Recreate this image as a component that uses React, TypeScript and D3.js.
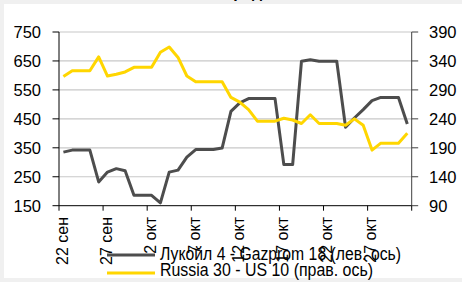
import * as d3 from "d3";

/** daily categories, 22 Sep .. 31 Oct */
const days = d3.timeDay.range(new Date(2008, 8, 22), new Date(2008, 10, 1));

/** Лукойл 4 - Gazprom 18, left axis */
const lukoilGazprom = [
  335, 342, 342, 342, 232, 266, 278, 271, 186, 186, 186, 160, 266, 273, 318,
  344, 344, 344, 349, 476, 505, 520, 520, 520, 520, 292, 292, 649, 654, 649,
  649, 649, 421, 453, 482, 513, 524, 524, 524, 432,
];

/** Russia 30 - US 10, right axis */
const russiaUs = [
  313, 323, 323, 323, 347, 314, 317, 321, 329, 329, 329, 355, 364, 346, 314,
  304, 304, 304, 304, 277, 269, 256, 236, 236, 236, 241, 238, 232, 247, 232,
  232, 232, 229, 240, 229, 186, 198, 198, 198, 215,
];

const leftTicks = [150, 250, 350, 450, 550, 650, 750];
const rightTicks = [90, 140, 190, 240, 290, 340, 390];
const xTickLabels = ["22 сен", "27 сен", "2 окт", "7 окт", "12 окт", "17 окт", "22 окт", "27 окт"];
const legendLabels = ["Лукойл 4 - Gazprom 18 (лев. ось)", "Russia 30 - US 10 (прав. ось)"];

const width = 462;
const height = 282;
const left = 59;
const right = 411.7;
const top = 32;
const bottom = 205.7;

const grayColor = "#4d4d4d";
const yellowColor = "#ffd600";
const font = "'Liberation Sans Narrow', 'Arial Narrow', 'Liberation Sans', Arial, sans-serif";

const App = () => {
  const x = d3
    .scaleBand<number>()
    .domain(days.map((_, i) => i))
    .range([left, right]);
  const cx = (i: number) => (x(i) ?? 0) + x.bandwidth() / 2;
  const yLeft = d3.scaleLinear().domain([150, 750]).range([bottom, top]);
  const yRight = d3.scaleLinear().domain([90, 390]).range([bottom, top]);

  const grayLine = d3
    .line<number>()
    .x((_, i) => cx(i))
    .y((d) => yLeft(d));
  const yellowLine = d3
    .line<number>()
    .x((_, i) => cx(i))
    .y((d) => yRight(d));

  /** tick marks at category boundaries, every 5 days */
  const xTicks = d3.range(0, days.length + 1, 5).map((i) =>
    i < days.length ? x(i) ?? 0 : right
  );

  return (
    <svg
      width={width}
      height={height}
      style={{ position: "absolute", left: 0, top: 0 }}
      fontFamily={font}
    >
      <rect x={0} y={0} width={width} height={height} fill="#f0f0f0" />
      <rect x={4} y={4} width={width - 4} height={274} fill="#ffffff" />
      {/* title, cut off at the top */}
      <text x={212} y={-2} fontSize={16} fontWeight="bold" fontFamily="Arial, sans-serif">
        Спреды
      </text>

      {/* grid */}
      {leftTicks.slice(1).map((t) => (
        <line key={t} x1={left} x2={right} y1={yLeft(t)} y2={yLeft(t)} stroke="#c8c8c8" strokeWidth={1.2} />
      ))}

      {/* left axis */}
      <line x1={left} x2={left} y1={top} y2={bottom} stroke="#000" />
      {leftTicks.map((t) => (
        <g key={t}>
          <line x1={left - 6.5} x2={left} y1={yLeft(t)} y2={yLeft(t)} stroke="#000" />
          <text x={41} y={yLeft(t)} textAnchor="end" dominantBaseline="central" fontSize={16.5} fill="#000">
            {t}
          </text>
        </g>
      ))}

      {/* right axis */}
      <line x1={right} x2={right} y1={top} y2={bottom} stroke="#404040" />
      {rightTicks.map((t) => (
        <g key={t}>
          <line x1={right} x2={right + 6.5} y1={yRight(t)} y2={yRight(t)} stroke="#404040" />
          <text x={429} y={yRight(t)} dominantBaseline="central" fontSize={16.5} fill="#000">
            {t}
          </text>
        </g>
      ))}

      {/* bottom axis */}
      <line x1={left} x2={right} y1={bottom} y2={bottom} stroke="#000" />
      {xTicks.map((tx, k) => (
        <g key={k}>
          <line x1={tx} x2={tx} y1={bottom} y2={bottom + 5} stroke="#000" />
          {k < xTickLabels.length && (
            <text
              transform={`translate(${tx + 3}, 217) rotate(-90)`}
              textAnchor="end"
              dominantBaseline="central"
              fontSize={16}
              fill="#000"
            >
              {xTickLabels[k]}
            </text>
          )}
        </g>
      ))}

      {/* series */}
      <path d={grayLine(lukoilGazprom) ?? ""} fill="none" stroke={grayColor} strokeWidth={3} strokeLinejoin="round" />
      <path d={yellowLine(russiaUs) ?? ""} fill="none" stroke={yellowColor} strokeWidth={3} strokeLinejoin="round" />

      {/* legend */}
      <line x1={107} x2={155} y1={255} y2={255} stroke={grayColor} strokeWidth={3} />
      <text x={160} y={259.5} fontSize={17.5} fill="#000" textLength={241} lengthAdjust="spacingAndGlyphs">
        {legendLabels[0]}
      </text>
      <line x1={107} x2={155} y1={273} y2={273} stroke={yellowColor} strokeWidth={3} />
      <text x={160} y={276} fontSize={17.5} fill="#000" textLength={213} lengthAdjust="spacingAndGlyphs">
        {legendLabels[1]}
      </text>
    </svg>
  );
};

export default App;
